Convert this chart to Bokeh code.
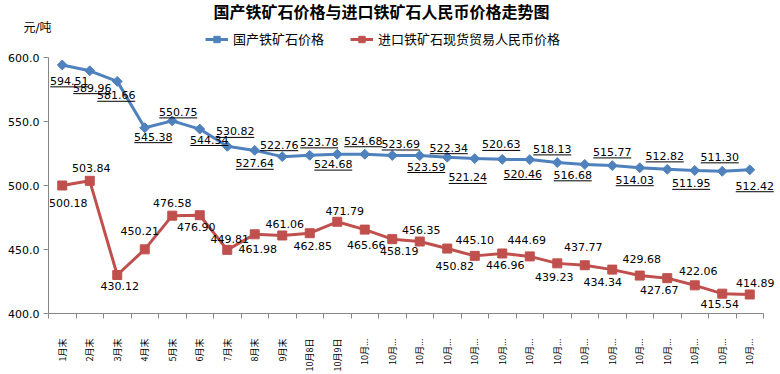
import math
from bokeh.plotting import figure
from bokeh.models import (ColumnDataSource, Range1d, FixedTicker, NumeralTickFormatter,
                          LabelSet, Legend, LegendItem, Arrow, Title)
from bokeh.core.properties import value
from bokeh.embed import file_html
from bokeh.resources import INLINE

# ---------------- data ----------------
categories = ["1月末", "2月末", "3月末", "4月末", "5月末", "6月末", "7月末", "8月末", "9月末",
              "10月8日", "10月9日"] + ["10月..."] * 15
domestic_price = [594.51, 589.96, 581.66, 545.38, 550.75, 544.34, 530.82, 527.64, 522.76,
                  523.78, 524.68, 524.68, 523.69, 523.59, 522.34, 521.24, 520.63, 520.46,
                  518.13, 516.68, 515.77, 514.03, 512.82, 511.95, 511.30, 512.42]
import_price = [500.18, 503.84, 430.12, 450.21, 476.58, 476.90, 449.81, 461.98, 461.06,
                462.85, 471.79, 465.66, 458.19, 456.35, 450.82, 445.10, 446.96, 444.69,
                439.23, 437.77, 434.34, 429.68, 427.67, 422.06, 415.54, 414.89]
y_ticks = [400, 450, 500, 550, 600]
series_names = ["国产铁矿石价格", "进口铁矿石现货贸易人民币价格"]
title_text = "国产铁矿石价格与进口铁矿石人民币价格走势图"
unit_text = "元/吨"

# ---------------- label placement (pixels, +dx right, +dy down) ----------------
dom_dx = [7, 2.5, -1, 8.5, 6, 9.5, 8, 0, -3, 9.5, -4, -1.5, 8.5, 6.5, 1.5, -7, -1, -7,
          -5, -12, 0, -5, -2.5, -3.5, -2.5, 5]
dom_dy = [16, 17, 14, 9, -9, 10.5, -15, 13, -12, -13.5, 10, -13.5, -11.5, 11, -9.5, 19,
          -15, 14, -13.7, 10.5, -13.7, 12, -13.5, 13, -14.5, 16]
imp_dx = [6, 1.5, 2.5, -5, 0, -3.5, 2.5, 3, 2.5, 3, 7.5, 1.5, 7, 1.5, 7.5, 0, 3, -3,
          -3, -1.5, -9.5, 2, -8, 3.5, -2.5, 5.5]
imp_dy = [18, -13, 11, -18, -12.6, 12, -11, 15, -12, 13, -11, 15, 12, -12, 18, -15.5, 12,
          -16, 14, -18.5, 12.5, -16.5, 12, -14, 10.5, -12]

# ---------------- geometry ----------------
FIG_W, FIG_H = 780, 374
FRAME_LEFT, FRAME_BOTTOM = 48, 315
FRAME_TOP_GUESS = 32.4
PX_X = 27.5          # pixels per category
PX_Y = 1.285         # pixels per yuan
N = len(categories)
X_MIN = -0.5
X_MAX = X_MIN + (FIG_W - FRAME_LEFT) / PX_X
Y_MIN = y_ticks[0]
Y_MAX = Y_MIN + (FRAME_BOTTOM - FRAME_TOP_GUESS) / PX_Y

BLUE = "#4F81BD"
RED = "#C0504D"
AXIS = "#868686"
NUM_FONT = "DejaVu Sans"
CJK_FONT = "Noto Sans CJK SC"
HEAD_FONT = "DejaVu Sans, Noto Sans CJK SC"

p = figure(width=FIG_W, height=FIG_H, output_backend="svg", toolbar_location=None,
           title=None,
           x_range=Range1d(X_MIN, X_MAX), y_range=Range1d(Y_MIN, Y_MAX),
           min_border_left=FRAME_LEFT, min_border_top=0, min_border_right=0,
           min_border_bottom=FIG_H - FRAME_BOTTOM)
p.outline_line_color = None
p.xgrid.visible = False
p.ygrid.visible = False
p.background_fill_color = "white"
p.border_fill_color = "white"

xs = list(range(N))
src = ColumnDataSource(dict(x=xs, dom=domestic_price, imp=import_price))

l1 = p.line("x", "dom", source=src, line_color=BLUE, line_width=3)
s1 = p.scatter("x", "dom", source=src, marker="square", angle=math.pi / 4, size=7,
               fill_color=BLUE, line_color=BLUE)
l2 = p.line("x", "imp", source=src, line_color=RED, line_width=3)
s2 = p.scatter("x", "imp", source=src, marker="square", size=9,
               fill_color=RED, line_color=RED)

# data labels
dom_lx = [i + dx / PX_X for i, dx in zip(xs, dom_dx)]
dom_ly = [v - dy / PX_Y for v, dy in zip(domestic_price, dom_dy)]
imp_lx = [i + dx / PX_X for i, dx in zip(xs, imp_dx)]
imp_ly = [v - dy / PX_Y for v, dy in zip(import_price, imp_dy)]

dom_lab = ColumnDataSource(dict(x=dom_lx, y=dom_ly, t=["%.2f" % v for v in domestic_price],
                                x0=[x - 19 / PX_X for x in dom_lx],
                                x1=[x + 19 / PX_X for x in dom_lx],
                                yu=[y - 6 / PX_Y for y in dom_ly]))
imp_lab = ColumnDataSource(dict(x=imp_lx, y=imp_ly, t=["%.2f" % v for v in import_price]))

for s in (dom_lab, imp_lab):
    p.add_layout(LabelSet(x="x", y="y", text="t", source=s, text_align="center",
                          text_baseline="middle", text_font=value(NUM_FONT),
                          text_font_size="11px", text_color="black"))
p.add_layout(Arrow(end=None, x_start="x0", y_start="yu", x_end="x1", y_end="yu",
                   source=dom_lab, line_color="black", line_width=1))

# axes
xa = p.xaxis[0]
xa.bounds = (X_MIN, N - 0.5)
xa.ticker = FixedTicker(ticks=xs, minor_ticks=[i - 0.5 for i in range(N + 1)])
xa.major_label_overrides = {i: c for i, c in enumerate(categories)}
xa.major_label_orientation = math.pi / 2
xa.major_label_text_font = CJK_FONT
xa.major_label_text_font_size = "9px"
xa.major_label_text_color = "black"
xa.major_label_standoff = 20
xa.major_tick_out = 0
xa.major_tick_in = 0
xa.minor_tick_out = 5
xa.minor_tick_in = 0
xa.minor_tick_line_color = AXIS
xa.axis_line_color = AXIS

ya = p.yaxis[0]
ya.bounds = (y_ticks[0], y_ticks[-1])
ya.ticker = FixedTicker(ticks=y_ticks, minor_ticks=[])
ya.formatter = NumeralTickFormatter(format="0.0")
ya.major_label_text_font = NUM_FONT
ya.major_label_text_font_size = "11px"
ya.major_label_text_color = "black"
ya.major_label_standoff = 4
ya.major_tick_out = 5
ya.major_tick_in = 0
ya.major_tick_line_color = AXIS
ya.axis_line_color = AXIS
ya.minor_tick_line_color = None

# unit (closest to the frame) and title (outermost)
p.add_layout(Title(text=unit_text, align="left", offset=23 - FRAME_LEFT, standoff=-5,
                   text_font=HEAD_FONT, text_font_size="12px", text_font_style="normal",
                   text_color="black"), "above")
p.add_layout(Title(text=title_text, align="left", offset=213 - FRAME_LEFT, standoff=0,
                   text_font=HEAD_FONT, text_font_size="16px", text_font_style="bold",
                   text_color="black"), "above")

legend = Legend(items=[LegendItem(label=series_names[0], renderers=[l1, s1]),
                       LegendItem(label=series_names[1], renderers=[l2, s2])],
                orientation="horizontal", location=(205 - FRAME_LEFT, 265), padding=0,
                margin=0, spacing=26, label_standoff=5, glyph_width=23, glyph_height=16,
                label_height=16, label_text_font=HEAD_FONT, label_text_font_size="13px",
                label_text_color="black", background_fill_alpha=0,
                border_line_color=None)
p.add_layout(legend, "center")

open("out.html", "w").write(file_html(p, INLINE))
